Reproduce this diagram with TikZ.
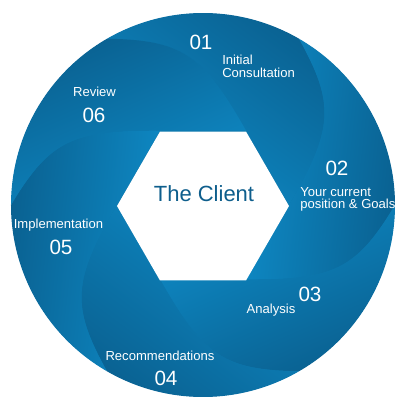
\documentclass[tikz,border=0pt]{standalone}
\usepackage{fontspec}
\setmainfont{Liberation Sans}
\usetikzlibrary{shapes.geometric}
\definecolor{bdark}{HTML}{0A6191}
\definecolor{blight}{HTML}{0E8BC7}
\definecolor{bmid}{HTML}{0C77AD}
\definecolor{cltext}{HTML}{0E5E8C}
\begin{document}
\begin{tikzpicture}[x=0.75pt,y=0.75pt,
  lbl/.style={text=white,font=\fontsize{9.8}{11}\selectfont,inner sep=0pt},
  num/.style={text=white,font=\fontsize{15.5}{17}\selectfont,inner sep=0pt},
  blade/.style={left color=bdark,right color=blight}]
\useasboundingbox (-203,-196) rectangle (197,205);
\fill[bmid] (0,0) circle[radius=191.5];
\foreach \k in {0,...,5}{
  \pgfmathsetmacro\o{-60*\k}
  \pgfmathsetmacro\sa{-36.5-60*\k}
  \path[blade,shading angle=\sa] (\o+120:192)
    arc[start angle=\o+120,end angle=\o+60,radius=192]
    .. controls (\o+37.5:166.4) and (\o+30.2:151.4) .. (\o:86)
    -- (\o+60:86)
    .. controls (\o+90.2:151.4) and (\o+97.5:166.4) .. (\o+120:192) -- cycle;
}
\node[regular polygon,regular polygon sides=6,minimum size=129pt,inner sep=0pt,fill=white,draw=none] (hex) at (0,-1) {};
\node[text=cltext,font=\fontsize{16.5}{18}\selectfont,inner sep=0pt] (client) at (1,11) {The Client};
\node[num] (n1) at (-2,163) {01};
\node[lbl,anchor=west] (t1a) at (19,145) {Initial};
\node[lbl,anchor=west] (t1b) at (19,132) {Consultation};
\node[num] (n2) at (134,37) {02};
\node[lbl,anchor=west] (t2a) at (97,13) {Your current};
\node[lbl,anchor=west] (t2b) at (97,0) {position \& Goals};
\node[num] (n3) at (107,-89) {03};
\node[lbl] (t3) at (68,-105) {Analysis};
\node[lbl] (t4) at (-43,-151) {Recommendations};
\node[num] (n4) at (-37,-173) {04};
\node[lbl] (t5) at (-144.5,-20) {Implementation};
\node[num] (n5) at (-142,-42) {05};
\node[lbl] (t6) at (-108.5,113) {Review};
\node[num] (n6) at (-109,90) {06};
\end{tikzpicture}
\end{document}
